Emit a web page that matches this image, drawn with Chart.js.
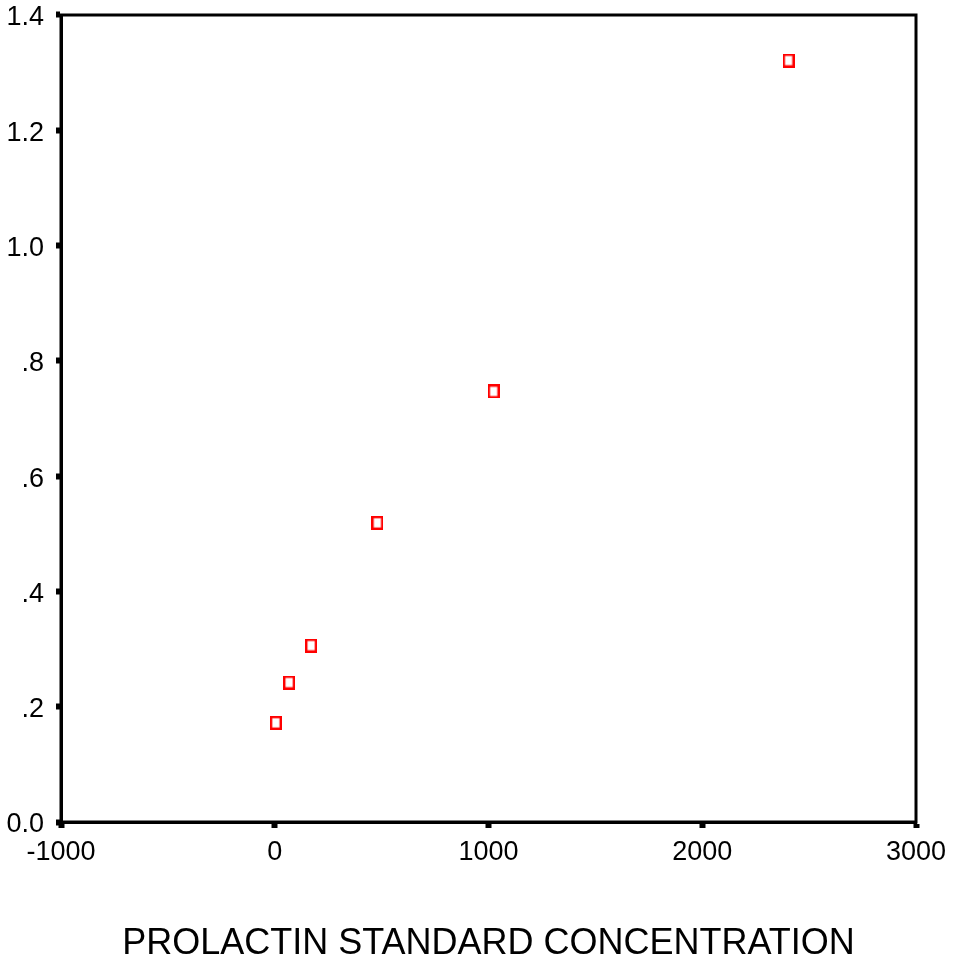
<!DOCTYPE html>
<html>
<head>
<meta charset="utf-8">
<script src="https://cdn.jsdelivr.net/npm/chart.js@4/dist/chart.umd.min.js"></script>
<style>
  html, body { margin: 0; padding: 0; background: #fff; }
  #wrap { position: relative; width: 957px; height: 962px; }
</style>
</head>
<body>
<div id="wrap"><canvas id="c"></canvas></div>
<script>
// standard concentration vs absorbance
const concentration = [5, 67, 170, 480, 1024, 2404];
const absorbance = [0.172, 0.242, 0.306, 0.519, 0.747, 1.321];

const xTickValues = [-1000, 0, 1000, 2000, 3000];
const xTickLabels = ['-1000', '0', '1000', '2000', '3000'];
const yTickLabels = ['0.0', '.2', '.4', '.6', '.8', '1.0', '1.2', '1.4'];

const FONT = "'Liberation Sans Narrow', 'Arial Narrow', 'Liberation Sans', Arial, sans-serif";

// open red rectangle marker
function makeMarker() {
    const cv = document.createElement('canvas');
    cv.width = 12;
    cv.height = 14;
    const ctx = cv.getContext('2d');
    ctx.strokeStyle = '#ff0000';
    ctx.lineWidth = 2.4;
    ctx.strokeRect(1.2, 1.2, 9.6, 11.6);
    return cv;
}

// frame around the plot area
const frame = {
    id: 'frame',
    afterDraw(chart) {
        const a = chart.chartArea;
        const ctx = chart.ctx;
        ctx.save();
        ctx.strokeStyle = '#000';
        ctx.lineWidth = 3;
        ctx.strokeRect(a.left, a.top, a.right - a.left, a.bottom - a.top);
        ctx.restore();
    }
};

new Chart(document.getElementById('c'), {
    type: 'scatter',
    data: {
        datasets: [{
            data: concentration.map((x, i) => ({ x: x, y: absorbance[i] })),
            pointStyle: makeMarker(),
            pointRadius: 7
        }]
    },
    options: {
        responsive: true,
        maintainAspectRatio: false,
        animation: false,
        plugins: { legend: { display: false }, tooltip: { enabled: false } },
        layout: { autoPadding: false, padding: { top: 15, right: 41, left: 0, bottom: 0 } },
        scales: {
            x: {
                type: 'linear',
                min: -1000,
                max: 3000,
                afterBuildTicks: s => { s.ticks = xTickValues.map(v => ({ value: v })); },
                afterFit: s => { s.height = 140; },
                ticks: {
                    color: '#000',
                    font: { family: FONT, size: 27 },
                    padding: 8,
                    maxRotation: 0,
                    callback: (v, i) => xTickLabels[i]
                },
                grid: {
                    drawOnChartArea: false,
                    tickLength: 6,
                    tickWidth: 6,
                    tickColor: '#000'
                },
                border: { display: true, color: '#000', width: 3 },
                title: {
                    display: true,
                    text: 'PROLACTIN STANDARD CONCENTRATION',
                    color: '#000',
                    font: { family: FONT, size: 36 },
                    padding: { top: 0, bottom: -4 }
                }
            },
            y: {
                type: 'linear',
                min: 0,
                max: 1.4,
                afterBuildTicks: s => { s.ticks = yTickLabels.map((l, i) => ({ value: i * 0.2 })); },
                afterFit: s => { s.width = 61; s.paddingTop = 0; s.paddingBottom = 0; },
                ticks: {
                    color: '#000',
                    font: { family: FONT, size: 27 },
                    padding: 12,
                    labelOffset: 3,
                    callback: (v, i) => yTickLabels[i]
                },
                grid: {
                    drawOnChartArea: false,
                    tickLength: 5,
                    tickWidth: 6,
                    tickColor: '#000'
                },
                border: { display: true, color: '#000', width: 3 }
            }
        }
    },
    plugins: [frame]
});
</script>
</body>
</html>
